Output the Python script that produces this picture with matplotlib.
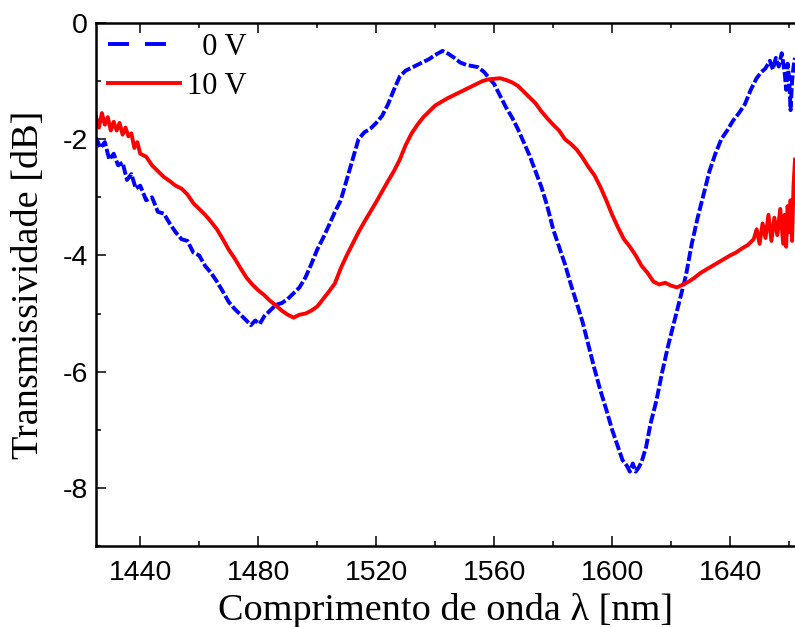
import matplotlib
matplotlib.use("Agg")
import matplotlib.pyplot as plt
from matplotlib.lines import Line2D
from matplotlib.ticker import MultipleLocator

plt.rcParams["axes.unicode_minus"] = False

# ---- data ----
wl_0v = [1425.0, 1426.5, 1428.0, 1429.5, 1431.0, 1432.5, 1434.0, 1435.5, 1437.0, 1438.5,
         1440.0, 1442.0, 1444.0, 1446.0, 1448.0, 1450.0, 1452.0, 1454.0, 1456.0, 1458.0,
         1460.0, 1462.0, 1464.0, 1466.0, 1468.0, 1470.0, 1472.0, 1474.0, 1476.0, 1477.5,
         1479.0, 1480.5, 1482.0, 1484.0, 1486.0, 1488.0, 1490.0, 1492.0, 1494.0, 1496.0,
         1498.0, 1500.0, 1502.0, 1504.0, 1506.0, 1508.0, 1510.0, 1512.0, 1514.0, 1516.0,
         1518.0, 1520.0, 1522.0, 1524.0, 1526.0, 1528.0, 1530.0, 1532.0, 1534.0, 1536.0,
         1538.0, 1540.0, 1542.5, 1544.5, 1546.5, 1548.5, 1550.5, 1552.5, 1554.5, 1556.5,
         1558.0, 1560.0, 1562.0, 1564.0, 1566.0, 1568.0, 1570.0, 1572.0, 1574.0, 1576.0,
         1578.0, 1580.0, 1582.0, 1584.0, 1586.0, 1588.0, 1590.0, 1592.0, 1594.0, 1596.0,
         1598.0, 1600.0, 1602.0, 1603.5, 1605.0, 1606.0, 1607.0, 1608.0, 1609.0, 1610.0,
         1611.5, 1613.0, 1615.0, 1617.0, 1619.0, 1621.0, 1623.0, 1625.0, 1627.0, 1629.0,
         1631.0, 1633.0, 1635.0, 1637.0, 1639.0, 1641.0, 1643.0, 1645.0, 1647.0, 1649.0,
         1650.5, 1652.0, 1653.5, 1654.5, 1655.5, 1656.5, 1657.5, 1658.5, 1659.0, 1659.5,
         1660.0, 1660.5, 1661.0, 1661.5, 1662.0]
t_0v = [-1.97, -2.15, -2.05, -2.35, -2.25, -2.45, -2.40, -2.70, -2.60, -2.85,
        -2.80, -3.05, -3.00, -3.25, -3.28, -3.45, -3.60, -3.72, -3.75, -3.95,
        -4.00, -4.18, -4.30, -4.45, -4.62, -4.80, -4.92, -5.02, -5.12, -5.20,
        -5.12, -5.18, -5.05, -4.95, -4.85, -4.82, -4.75, -4.65, -4.55, -4.38,
        -4.15, -3.90, -3.70, -3.48, -3.25, -3.05, -2.70, -2.35, -2.00, -1.88,
        -1.82, -1.72, -1.60, -1.40, -1.15, -0.92, -0.82, -0.77, -0.72, -0.67,
        -0.62, -0.55, -0.48, -0.53, -0.60, -0.68, -0.72, -0.74, -0.76, -0.84,
        -0.93, -1.05, -1.25, -1.45, -1.62, -1.82, -2.05, -2.28, -2.55, -2.82,
        -3.15, -3.55, -3.85, -4.15, -4.50, -4.82, -5.15, -5.55, -5.95, -6.32,
        -6.65, -7.00, -7.30, -7.52, -7.62, -7.72, -7.58, -7.72, -7.65, -7.55,
        -7.30, -6.90, -6.50, -6.00, -5.55, -5.15, -4.75, -4.35, -3.80, -3.35,
        -2.95, -2.55, -2.25, -2.00, -1.85, -1.68, -1.55, -1.40, -1.15, -0.95,
        -0.85, -0.78, -0.65, -0.80, -0.60, -0.75, -0.52, -0.85, -1.15, -0.70,
        -0.95, -1.50, -1.00, -0.75, -0.60]

wl_10v = [1425.0, 1426.0, 1427.0, 1428.0, 1429.0, 1430.0, 1431.0, 1432.0, 1433.0, 1434.0,
          1435.0, 1436.0, 1437.0, 1438.0, 1439.0, 1440.0, 1442.0, 1444.0, 1446.0, 1448.0,
          1450.0, 1452.0, 1454.0, 1456.0, 1458.0, 1460.0, 1462.0, 1464.0, 1466.0, 1468.0,
          1470.0, 1472.0, 1474.0, 1476.0, 1478.0, 1480.0, 1482.0, 1484.0, 1486.0, 1488.0,
          1490.0, 1492.0, 1494.0, 1496.0, 1498.0, 1500.0, 1502.0, 1504.0, 1506.0, 1508.0,
          1510.0, 1512.0, 1514.0, 1516.0, 1518.0, 1520.0, 1522.0, 1524.0, 1526.0, 1528.0,
          1530.0, 1532.0, 1534.0, 1536.0, 1538.0, 1540.0, 1542.0, 1544.0, 1546.0, 1548.0,
          1550.0, 1552.0, 1554.0, 1556.0, 1558.0, 1560.0, 1562.0, 1564.0, 1566.0, 1568.0,
          1570.0, 1572.0, 1574.0, 1576.0, 1578.0, 1580.0, 1582.0, 1584.0, 1586.0, 1588.0,
          1590.0, 1592.0, 1594.0, 1596.0, 1598.0, 1600.0, 1602.0, 1604.0, 1606.0, 1608.0,
          1610.0, 1612.0, 1614.0, 1616.0, 1618.0, 1620.0, 1622.0, 1624.0, 1626.0, 1628.0,
          1630.0, 1632.0, 1634.0, 1636.0, 1638.0, 1640.0, 1642.0, 1644.0, 1646.0, 1648.0,
          1649.0, 1650.0, 1651.0, 1652.0, 1653.0, 1654.0, 1655.0, 1656.0, 1657.0, 1658.0,
          1658.5, 1659.0, 1659.5, 1660.0, 1660.5, 1661.0, 1661.5, 1662.0]
t_10v = [-1.62, -1.80, -1.55, -1.75, -1.62, -1.85, -1.70, -1.85, -1.72, -1.92,
         -1.80, -1.95, -1.90, -2.15, -2.05, -2.25, -2.30, -2.45, -2.55, -2.65,
         -2.72, -2.80, -2.85, -2.95, -3.10, -3.20, -3.30, -3.42, -3.55, -3.72,
         -3.90, -4.05, -4.22, -4.38, -4.50, -4.60, -4.68, -4.78, -4.86, -4.95,
         -5.02, -5.07, -5.02, -5.00, -4.95, -4.88, -4.75, -4.62, -4.48, -4.22,
         -4.00, -3.80, -3.60, -3.42, -3.25, -3.08, -2.90, -2.72, -2.55, -2.35,
         -2.10, -1.90, -1.75, -1.62, -1.52, -1.42, -1.36, -1.30, -1.25, -1.20,
         -1.15, -1.10, -1.05, -1.00, -0.97, -0.96, -0.95, -0.98, -1.02, -1.08,
         -1.18, -1.28, -1.38, -1.52, -1.64, -1.75, -1.85, -2.00, -2.08, -2.18,
         -2.32, -2.48, -2.62, -2.82, -3.05, -3.30, -3.52, -3.72, -3.85, -4.00,
         -4.18, -4.30, -4.45, -4.50, -4.47, -4.52, -4.55, -4.50, -4.45, -4.38,
         -4.30, -4.24, -4.18, -4.12, -4.06, -4.00, -3.95, -3.88, -3.82, -3.72,
         -3.55, -3.80, -3.45, -3.70, -3.30, -3.75, -3.35, -3.65, -3.20, -3.80,
         -3.30, -3.85, -3.15, -3.60, -3.05, -3.75, -2.80, -2.35]

labels = ["  0 V", "10 V"]
xticks = [1440, 1480, 1520, 1560, 1600, 1640]
yticks = [0, -2, -4, -6, -8]

# ---- figure ----
W, H = 795, 627
fig = plt.figure(figsize=(W / 100, H / 100), dpi=100)
ax = fig.add_axes([96 / W, 81 / H, 699 / W, 523 / H])

lw = 2.8
ax.plot(wl_0v, t_0v, color="#0000ff", lw=lw, dashes=(2.6, 0.7))
ax.plot(wl_10v, t_10v, color="#ff0000", lw=lw)

ax.set_xlim(1425, 1662)
ax.set_ylim(-9, 0)
ax.set_xticks(xticks)
ax.set_yticks(yticks)
ax.xaxis.set_minor_locator(MultipleLocator(20))
ax.yaxis.set_minor_locator(MultipleLocator(1))

for s in ["left", "bottom", "top"]:
    ax.spines[s].set_linewidth(1.8)
ax.spines["right"].set_visible(False)

ax.tick_params(which="both", direction="in", top=True, right=False, width=1.1)
ax.tick_params(which="major", length=7)
ax.tick_params(which="minor", length=3.5)
ax.tick_params(axis="x", pad=10)
ax.tick_params(axis="y", pad=6)
for lab in ax.get_xticklabels() + ax.get_yticklabels():
    lab.set_fontfamily("Liberation Sans")
    lab.set_fontsize(20.5)

ax.set_xlabel("Comprimento de onda λ [nm]", fontfamily="Liberation Serif", fontsize=27.5, labelpad=5)
ax.set_ylabel("Transmissividade [dB]", fontfamily="Liberation Serif", fontsize=27.5, labelpad=12)

handles = [Line2D([], [], color="#0000ff", lw=lw, dashes=(5.4, 4.1)),
           Line2D([], [], color="#ff0000", lw=lw)]
ax.legend(handles, labels, loc="upper left", bbox_to_anchor=(12 / 699, 1 - 10 / 523),
          borderaxespad=0, borderpad=0, frameon=False, handlelength=2.35,
          handletextpad=0.25, labelspacing=0.32,
          prop={"family": "Liberation Serif", "size": 22})

fig.savefig("out.png", dpi=100)
